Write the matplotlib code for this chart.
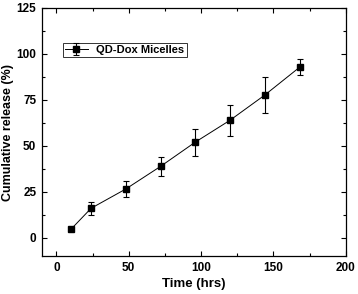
import numpy as np
import matplotlib
matplotlib.use("Agg")
import matplotlib.pyplot as plt
from matplotlib.ticker import MultipleLocator

plt.rcParams['font.family'] = ['Liberation Sans', 'DejaVu Sans']
plt.rcParams['font.weight'] = 'bold'

# Data
time_hrs = [10, 24, 48, 72, 96, 120, 144, 168]
release = [4.5, 16, 26.5, 38.8, 52, 63.9, 77.6, 92.7]
release_err = [1.0, 3.5, 4.5, 5.3, 7.4, 8.4, 9.8, 4.4]

fig = plt.figure(figsize=(3.58, 2.94), dpi=100)
ax = fig.add_axes([0.117, 0.129, 0.849, 0.844])

ax.errorbar(time_hrs, release, yerr=release_err, color="black", marker="s",
            markersize=4.5, linewidth=0.7, elinewidth=0.8, capsize=2,
            capthick=0.8, label="QD-Dox Micelles")

ax.set_xlim(-10, 200)
ax.set_ylim(-10, 125)
ax.xaxis.set_major_locator(MultipleLocator(50))
ax.xaxis.set_minor_locator(MultipleLocator(25))
ax.yaxis.set_major_locator(MultipleLocator(25))
ax.yaxis.set_minor_locator(MultipleLocator(12.5))
ax.tick_params(which="both", direction="in", top=True, right=True,
               labelsize=8.5, width=0.8)
ax.tick_params(which="major", length=3.5, pad=4)
ax.tick_params(which="minor", length=2)
for s in ax.spines.values():
    s.set_linewidth(0.9)

ax.set_xlabel("Time (hrs)", fontsize=9.5, fontweight="bold", labelpad=3)
ax.set_ylabel("Cumulative release (%)", fontsize=9, fontweight="bold", labelpad=2)

leg = ax.legend(loc="upper left", bbox_to_anchor=(0.07, 0.86), fontsize=8,
                frameon=True, fancybox=False, edgecolor="black",
                borderpad=0.2, handlelength=2.0, borderaxespad=0)
leg.get_frame().set_linewidth(0.7)

plt.savefig("out.png", dpi=100)
